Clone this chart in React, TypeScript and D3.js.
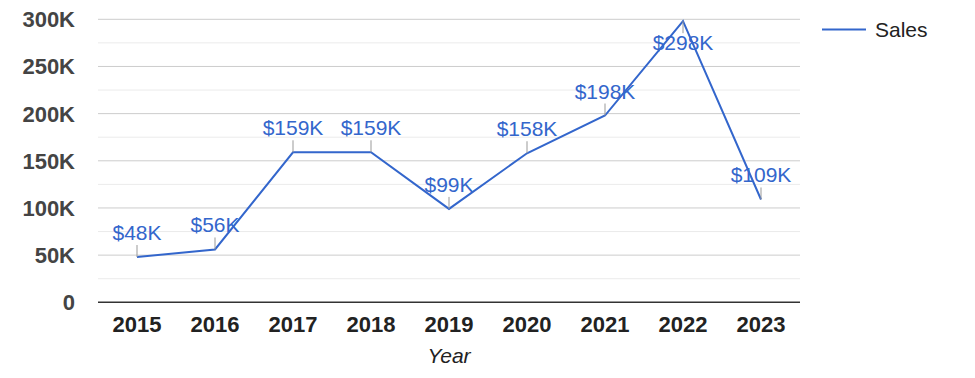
import React from "react";
import * as d3 from "d3";

const years = ["2015", "2016", "2017", "2018", "2019", "2020", "2021", "2022", "2023"];
const sales = [48000, 56000, 159000, 159000, 99000, 158000, 198000, 298000, 109000];
const yTicks = [0, 50000, 100000, 150000, 200000, 250000, 300000];
const minorTicks = [25000, 75000, 125000, 175000, 225000, 275000];
const annotationBelow = [false, false, false, false, false, false, false, true, false];

const W = 975;
const H = 378;
const left = 98;
const right = 800;
const top = 19.3;
const bottom = 302.3;
const font = "Arial, 'Liberation Sans', sans-serif";
const blue = "#3366cc";

export default function App() {
  const x = d3.scaleBand<string>().domain(years).range([left, right]);
  const y = d3.scaleLinear().domain([0, 300000]).range([bottom, top]);
  const cx = (d: string) => (x(d) as number) + x.bandwidth() / 2;
  const line = d3
    .line<number>()
    .x((_, i) => cx(years[i]))
    .y((v) => y(v));
  const fmtTick = (v: number) => (v === 0 ? "0" : `${v / 1000}K`);
  const fmtAnn = (v: number) => `$${Math.round(v / 1000)}K`;

  return (
    <svg
      width={W}
      height={H}
      style={{ position: "absolute", left: 0, top: 0, fontFamily: font }}
    >
      <rect width={W} height={H} fill="#fff" />
      {minorTicks.map((t) => (
        <line key={"m" + t} x1={left} x2={right} y1={y(t)} y2={y(t)} stroke="#ebebeb" strokeWidth={1} />
      ))}
      {yTicks.map((t) =>
        t === 0 ? null : (
          <line key={"g" + t} x1={left} x2={right} y1={y(t)} y2={y(t)} stroke="#cccccc" strokeWidth={1} />
        )
      )}
      {yTicks.map((t) => (
        <text
          key={"t" + t}
          x={75}
          y={y(t)}
          dy="0.36em"
          textAnchor="end"
          fontSize={22}
          fontWeight="bold"
          fill="#444"
        >
          {fmtTick(t)}
        </text>
      ))}
      <line x1={left} x2={right} y1={y(0)} y2={y(0)} stroke="#333" strokeWidth={1.5} />
      {years.map((yr) => (
        <text key={yr} x={cx(yr)} y={331.5} textAnchor="middle" fontSize={22} fontWeight="bold" fill="#222">
          {yr}
        </text>
      ))}
      <text x={(left + right) / 2} y={363} textAnchor="middle" fontSize={21} fontStyle="italic" fill="#222">
        Year
      </text>
      <path d={line(sales) || ""} fill="none" stroke={blue} strokeWidth={2} />
      {sales.map((v, i) => {
        const px = cx(years[i]);
        const py = y(v);
        const below = annotationBelow[i];
        return (
          <g key={"a" + i}>
            <line
              x1={px}
              x2={px}
              y1={py}
              y2={below ? py + 12 : py - 12}
              stroke="#999"
              strokeWidth={1}
            />
            <text
              x={px}
              y={below ? py + 29 : py - 17}
              textAnchor="middle"
              fontSize={21}
              fill={blue}
            >
              {fmtAnn(v)}
            </text>
          </g>
        );
      })}
      <line x1={822} x2={866} y1={29.5} y2={29.5} stroke={blue} strokeWidth={2} />
      <text x={875} y={37} fontSize={21} fill="#222">
        Sales
      </text>
    </svg>
  );
}
